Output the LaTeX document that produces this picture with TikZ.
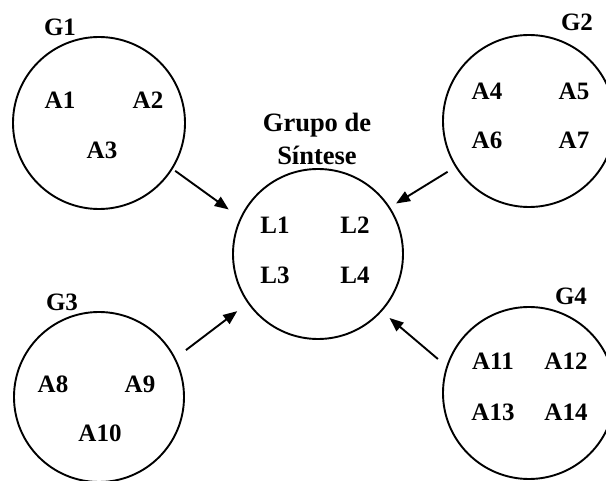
\documentclass[tikz,border=0pt]{standalone}
\usepackage{fontspec}
\setmainfont{Liberation Serif}
\usetikzlibrary{arrows.meta}
\begin{document}
\begin{tikzpicture}[x=1pt,y=-1pt,
  grp/.style={circle,draw,line width=1.9pt,minimum size=172pt,inner sep=0pt},
  lbl/.style={font=\fontsize{25}{33}\selectfont\bfseries,inner sep=0pt},
  feed/.style={line width=1.9pt,-{Triangle[length=14pt,width=11pt]}}]
\useasboundingbox (0,0) rectangle (606,481);
% group circles
\node[grp] (g1) at (99,123) {};
\node[grp] (g2) at (529,121) {};
\node[grp,minimum size=170pt] (sg) at (318,254) {};
\node[grp,minimum size=170pt] (g3) at (99,397) {};
\node[grp] (g4) at (529,393) {};
% group titles
\node[lbl] (t1) at (60,27) {G1};
\node[lbl] (t2) at (577,22) {G2};
\node[lbl] (t3) at (62,302) {G3};
\node[lbl] (t4) at (571,296) {G4};
\node[lbl,font=\fontsize{26.5}{33}\selectfont\bfseries,align=center] (ts) at (317,139) {Grupo de\\Síntese};
% members
\node[lbl] (a1) at (60,100) {A1};
\node[lbl] (a2) at (148,100) {A2};
\node[lbl] (a3) at (102,150) {A3};
\node[lbl] (a4) at (487,91) {A4};
\node[lbl] (a5) at (574,91) {A5};
\node[lbl] (a6) at (487,140) {A6};
\node[lbl] (a7) at (574,140) {A7};
\node[lbl] (a8) at (53,384) {A8};
\node[lbl] (a9) at (140,384) {A9};
\node[lbl] (a10) at (100,433) {A10};
\node[lbl] (a11) at (493,361) {A11};
\node[lbl] (a12) at (566,361) {A12};
\node[lbl] (a13) at (493,412) {A13};
\node[lbl] (a14) at (566,412) {A14};
\node[lbl] (l1) at (275,225) {L1};
\node[lbl] (l2) at (355,225) {L2};
\node[lbl] (l3) at (275,275) {L3};
\node[lbl] (l4) at (355,275) {L4};
% arrows into the synthesis group
\draw[feed,shorten <=3pt,shorten >=14pt] (g1.-32) -- (sg.155);
\draw[feed,shorten <=9pt,shorten >=7pt] (g2.212) -- (sg.33);
\draw[feed,shorten <=13pt,shorten >=13pt] (g3.27) -- (sg.215);
\draw[feed,shorten <=11pt,shorten >=10pt] (g4.162) -- (sg.-42);
\end{tikzpicture}
\end{document}
